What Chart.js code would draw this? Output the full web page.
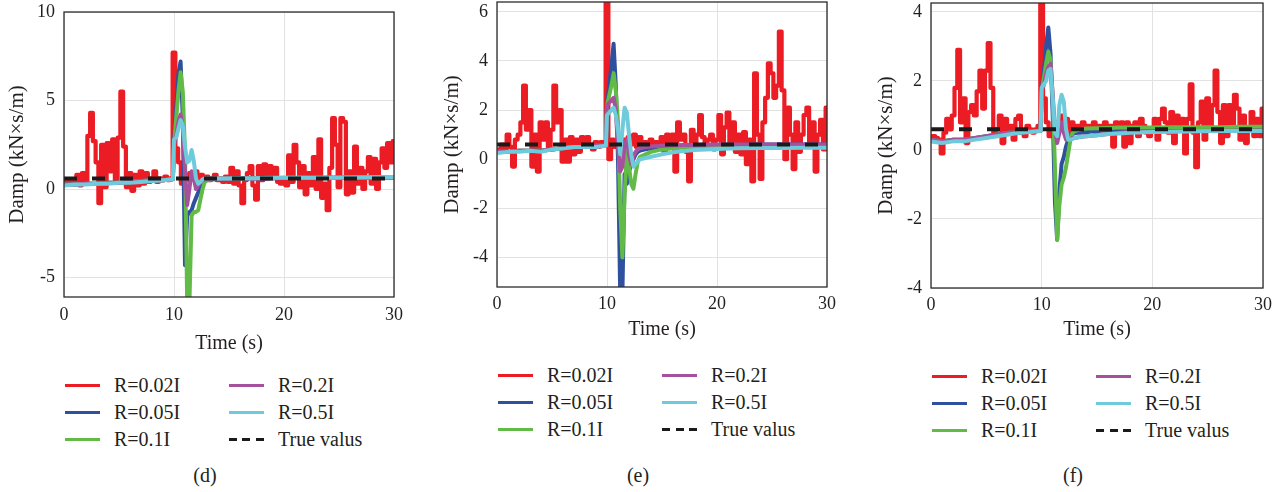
<!DOCTYPE html>
<html>
<head>
<meta charset="utf-8">
<script src="https://cdn.jsdelivr.net/npm/chart.js@4.4.1/dist/chart.umd.min.js"></script>
<style>
  body { margin: 0; background: #fff; }
  #wrap { position: relative; width: 1285px; height: 492px; overflow: hidden; font-family: "Liberation Serif", serif; color: #231f20; }
  canvas { position: absolute; top: 0; }
  .leg { position: absolute; font-size: 20px; line-height: 24px; white-space: nowrap; }
  .sw { position: absolute; width: 35px; height: 3px; }
  .cap { position: absolute; font-size: 20px; transform: translate(-50%, -50%); }
</style>
</head>
<body>
<div id="wrap">
  <canvas id="cD" width="420" height="360" style="left:0px"></canvas>
  <canvas id="cE" width="430" height="345" style="left:420px"></canvas>
  <canvas id="cF" width="435" height="345" style="left:850px"></canvas>
</div>
<script>
// ---- data ----
const seriesNames = ['R=0.02I', 'R=0.05I', 'R=0.1I', 'R=0.2I', 'R=0.5I', 'True valus'];
const xTicks = [0, 10, 20, 30];
const yTicksD = [-5, 0, 5, 10];
const yTicksE = [-4, -2, 0, 2, 4, 6];
const yTicksF = [-4, -2, 0, 2, 4];

// time for the noisy R=0.02I traces
const tRed = [0,0.25,0.5,0.75,1,1.25,1.5,1.75,2,2.25,2.5,2.75,3,3.25,3.5,3.75,4,4.25,4.5,4.75,
  5,5.25,5.5,5.75,6,6.25,6.5,6.75,7,7.25,7.5,7.75,8,8.25,8.5,8.75,9,9.25,9.5,9.75,
  10,10.25,10.5,10.75,11,11.25,11.5,11.75,12,12.25,12.5,12.75,13,13.25,13.5,13.75,14,14.25,14.5,14.75,
  15,15.25,15.5,15.75,16,16.25,16.5,16.75,17,17.25,17.5,17.75,18,18.25,18.5,18.75,19,19.25,19.5,19.75,
  20,20.25,20.5,20.75,21,21.25,21.5,21.75,22,22.25,22.5,22.75,23,23.25,23.5,23.75,24,24.25,24.5,24.75,
  25,25.25,25.5,25.75,26,26.25,26.5,26.75,27,27.25,27.5,27.75,28,28.25,28.5,28.75,29,29.25,29.5,29.75,30];

// time for the smoother traces
const tSm = [0,1,2,3,4,5,6,7,8,9,9.9,
  10,10.2,10.4,10.6,10.8,11,11.2,11.4,11.6,11.8,12,12.2,12.4,12.6,12.8,13,
  13.5,14,15,16,17,18,20,22,24,26,28,30];
const tTrue = [0, 30];

// (d)
const redD = [0.3,0.4,0.3,0.5,0.4,0.8,0.2,0.9,0.3,3.0,
  4.3,2.7,1.5,-0.8,2.5,0.1,2.6,1.0,2.8,0.5,
  2.9,5.5,2.4,0.1,0.9,-0.1,0.8,0.2,1.0,0.3,
  0.9,0.4,0.6,1.0,0.4,0.6,0.5,0.7,0.5,0.6,
  7.7,2.3,1.5,0.3,0.8,0.5,0.9,0.6,1.0,0.5,
  0.8,0.6,0.7,0.5,0.6,0.8,0.5,0.6,0.4,0.7,
  0.4,1.2,0.3,1.0,0.2,-0.8,0.5,0.9,1.3,0.2,
  -0.6,1.3,0.5,1.4,0.6,1.3,0.8,1.2,0.4,0.3,
  0.5,0.2,1.9,0.4,2.5,1.5,0.1,1.3,-0.3,0.9,
  0.2,1.8,0.0,2.8,-0.5,0.3,-1.2,1.2,4.0,2.5,
  0.1,4.0,3.8,-0.3,1.0,-0.2,2.4,0.3,1.2,0.0,
  1.0,1.8,0.3,1.7,0.0,1.5,2.3,1.2,2.6,1.5,
  2.7];
const blueD = [0.25,0.25,0.3,0.3,0.35,0.35,0.4,0.45,0.5,0.5,0.55,
  2.5,4.5,6.5,7.2,4.0,-4.3,-1.5,-1.3,-1.2,-0.8,-0.5,-0.2,0.1,0.3,0.45,0.5,
  0.55,0.55,0.6,0.6,0.6,0.6,0.62,0.62,0.63,0.64,0.65,0.65];
const greenD = [0.25,0.25,0.3,0.3,0.35,0.35,0.4,0.45,0.5,0.5,0.55,
  2.5,4.0,5.5,6.6,5.5,2.0,-6.5,-6.5,-1.5,-1.3,-1.3,-1.2,-0.6,0.0,0.4,0.5,
  0.55,0.58,0.6,0.6,0.62,0.62,0.63,0.63,0.64,0.65,0.65,0.66];
const purpleD = [0.25,0.25,0.3,0.3,0.35,0.35,0.4,0.45,0.5,0.5,0.55,
  2.5,3.0,3.8,4.2,3.5,1.0,-0.9,0.0,1.0,0.6,0.0,0.2,0.4,0.5,0.55,0.55,
  0.55,0.58,0.6,0.6,0.6,0.6,0.62,0.62,0.63,0.64,0.65,0.65];
const cyanD = [0.2,0.25,0.25,0.3,0.3,0.35,0.35,0.4,0.45,0.5,0.55,
  2.8,2.9,3.4,3.9,3.6,2.4,1.5,1.6,2.2,1.6,0.6,0.3,0.4,0.55,0.6,0.6,
  0.6,0.6,0.6,0.62,0.6,0.62,0.63,0.63,0.64,0.65,0.66,0.68];
const trueD = [0.6, 0.6];

// (e)
const redE = [0.3,0.4,0.6,0.3,1.0,0.5,-0.3,0.8,1.0,1.5,
  3.0,1.2,2.0,-0.3,1.0,-0.5,1.5,0.8,1.5,0.5,
  1.2,3.0,1.5,2.0,-0.1,0.8,-0.1,0.9,0.2,0.8,
  0.3,0.9,0.5,0.9,0.6,0.4,0.7,0.5,0.7,0.6,
  6.8,0.0,0.8,0.5,0.7,0.6,0.8,0.5,0.9,0.6,
  1.0,0.5,0.9,0.5,0.7,0.5,0.8,0.4,0.7,0.5,
  0.9,0.3,1.0,0.6,1.0,-0.5,1.5,0.8,1.0,0.3,
  -0.9,1.2,0.5,1.0,1.8,0.9,0.6,0.8,1.0,0.4,
  0.8,1.8,0.2,1.3,1.9,0.5,1.5,0.3,1.0,0.2,
  1.1,-0.2,0.8,-0.9,3.5,1.0,-0.8,1.5,2.5,3.9,
  3.5,2.5,3.0,5.2,2.8,0.0,2.1,1.0,-0.4,1.5,
  0.3,1.0,1.8,2.1,0.5,1.5,-0.5,1.0,1.6,0.4,
  2.1];
const blueE = [0.3,0.3,0.35,0.35,0.35,0.4,0.45,0.5,0.5,0.55,0.55,
  2.2,3.0,3.8,4.7,3.0,0.0,-5.5,-5.5,-0.6,-1.0,-0.5,-0.2,0.0,0.2,0.3,0.35,
  0.4,0.45,0.5,0.52,0.55,0.55,0.57,0.58,0.6,0.6,0.6,0.6];
const greenE = [0.3,0.3,0.35,0.35,0.35,0.4,0.45,0.5,0.5,0.55,0.55,
  2.2,2.6,3.0,3.5,2.8,1.5,-2.0,-4.0,-1.5,0.3,-0.3,-1.0,-1.2,-0.6,-0.1,0.1,
  0.2,0.3,0.4,0.45,0.48,0.5,0.5,0.5,0.52,0.52,0.52,0.52];
const purpleE = [0.3,0.3,0.35,0.35,0.35,0.4,0.45,0.5,0.5,0.55,0.55,
  2.2,2.3,2.4,2.5,2.0,0.5,-0.5,-0.3,0.6,0.8,0.2,-0.2,0.1,0.3,0.4,0.45,
  0.5,0.52,0.55,0.57,0.58,0.58,0.6,0.6,0.6,0.6,0.6,0.6];
const cyanE = [0.25,0.3,0.3,0.35,0.3,0.4,0.45,0.5,0.5,0.5,0.55,
  1.8,1.9,2.0,2.1,1.8,1.2,0.2,1.2,2.1,1.9,1.0,0.2,-0.3,-0.2,-0.1,0.0,
  0.05,0.1,0.2,0.28,0.33,0.38,0.42,0.45,0.46,0.46,0.47,0.47];
const trueE = [0.6, 0.6];

// (f)
const redF = [0.35,0.4,0.35,0.3,-0.1,0.5,0.9,0.6,1.0,1.8,
  2.9,0.8,1.5,0.2,1.1,1.3,1.0,1.7,2.3,1.2,
  2.3,3.1,1.8,0.5,0.6,1.0,0.2,0.9,0.5,0.7,
  0.3,0.9,1.0,0.5,0.4,0.7,0.6,0.5,0.6,0.7,
  4.6,1.5,0.8,0.4,0.6,0.8,0.6,1.0,0.7,0.9,
  0.5,0.8,0.5,0.7,0.6,0.8,0.5,0.7,0.6,0.8,
  0.5,0.7,0.6,0.8,0.5,0.7,0.1,0.8,0.7,0.8,
  0.1,0.8,0.2,0.7,0.8,0.4,0.9,0.7,0.5,0.4,
  0.6,0.9,0.3,0.9,1.2,0.8,0.5,1.1,0.2,1.0,
  0.7,0.9,-0.1,0.9,1.9,0.5,-0.5,0.8,1.4,0.3,
  1.5,0.6,1.3,2.3,1.1,0.2,1.3,0.4,1.3,0.6,
  1.6,1.2,0.3,1.0,0.2,0.6,1.1,0.4,0.9,0.4,
  1.2];
const blueF = [0.3,0.25,0.3,0.3,0.35,0.4,0.45,0.5,0.5,0.55,0.55,
  1.7,2.3,3.0,3.55,2.8,1.0,-1.5,-2.6,-1.2,-0.4,-0.2,0.1,0.3,0.4,0.45,0.5,
  0.5,0.52,0.55,0.57,0.58,0.6,0.6,0.6,0.6,0.6,0.6,0.6];
const greenF = [0.3,0.25,0.3,0.3,0.35,0.4,0.45,0.5,0.5,0.55,0.55,
  1.7,2.1,2.5,2.85,2.6,1.5,-0.5,-2.6,-1.6,-1.0,-0.8,-0.5,-0.1,0.3,0.5,0.55,
  0.6,0.62,0.63,0.64,0.65,0.65,0.65,0.66,0.66,0.66,0.67,0.67];
const purpleF = [0.3,0.25,0.3,0.3,0.35,0.4,0.45,0.5,0.5,0.55,0.55,
  1.7,1.9,2.2,2.4,2.5,1.6,0.6,0.2,0.5,0.8,0.5,0.3,0.3,0.32,0.35,0.35,
  0.38,0.4,0.43,0.46,0.5,0.52,0.54,0.55,0.55,0.56,0.56,0.56];
const cyanF = [0.25,0.2,0.25,0.25,0.3,0.35,0.4,0.45,0.5,0.52,0.55,
  1.8,1.9,2.0,2.3,2.35,1.5,0.5,0.4,1.3,1.6,1.4,0.6,0.3,0.3,0.32,0.35,
  0.38,0.4,0.43,0.46,0.48,0.5,0.52,0.53,0.54,0.55,0.55,0.55];
const trueF = [0.6, 0.6];

// ---- styles ----
const colors = ['#ec1c24', '#2f4f9f', '#62bb46', '#a6519e', '#6ecbdc', '#1a1a1a'];
const textColor = '#231f20';
const fontFam = '"Liberation Serif", "Times New Roman", serif';
Chart.defaults.font.family = fontFam;
Chart.defaults.color = textColor;

const pts = (t, v) => t.map((x, i) => ({ x: x, y: v[i] }));

const boxPlugin = {
  id: 'box',
  afterDatasetsDraw(chart) {
    const a = chart.chartArea, ctx = chart.ctx;
    ctx.save();
    ctx.strokeStyle = '#2b2b2b';
    ctx.lineWidth = 1.3;
    ctx.strokeRect(a.left, a.top, a.right - a.left, a.bottom - a.top);
    ctx.restore();
  }
};

function makePanel(id, series, yTicks, L) {
  const datasets = series.map((s, i) => ({
    label: seriesNames[i],
    data: pts(s.t, s.v),
    borderColor: colors[i],
    borderWidth: i === 0 ? 4.2 : 4,
    borderDash: i === 5 ? [13, 15] : [],
    borderJoinStyle: 'round',
    stepped: i === 0 ? 'middle' : false,
    pointRadius: 0,
    tension: 0,
    clip: 0,
    order: 6 - i
  }));
  new Chart(document.getElementById(id), {
    type: 'line',
    data: { datasets },
    plugins: [boxPlugin],
    options: {
      responsive: false,
      animation: false,
      events: [],
      layout: { padding: { top: L.top, right: L.right, left: 0, bottom: 0 } },
      plugins: { legend: { display: false }, tooltip: { enabled: false } },
      scales: {
        x: {
          type: 'linear', min: 0, max: 30,
          afterBuildTicks: s => { s.ticks = xTicks.map(v => ({ value: v })); },
          afterFit: s => { s.height = L.xh; s.paddingLeft = 0; s.paddingRight = 0; },
          grid: { color: '#e2e2e2', lineWidth: 1, drawTicks: false },
          border: { display: false },
          ticks: { font: { size: 18 }, color: textColor, padding: L.xtp, maxRotation: 0 },
          title: { display: true, text: 'Time (s)', font: { size: 20 }, color: textColor,
                   padding: { top: 0, bottom: L.xtb } }
        },
        y: {
          type: 'linear', min: L.ymin, max: L.ymax,
          afterBuildTicks: s => { s.ticks = yTicks.map(v => ({ value: v })); },
          afterFit: s => { s.width = L.yw; s.paddingTop = 0; s.paddingBottom = 0; },
          grid: { color: '#e2e2e2', lineWidth: 1, drawTicks: false },
          border: { display: false },
          ticks: { font: { size: 18 }, color: textColor, padding: 9 },
          title: { display: true, text: 'Damp (kN×s/m)', font: { size: 21 }, color: textColor,
                   padding: { top: L.ytp, bottom: 0 } }
        }
      }
    }
  });
}

makePanel('cD', [
  { t: tRed, v: redD }, { t: tSm, v: blueD }, { t: tSm, v: greenD },
  { t: tSm, v: purpleD }, { t: tSm, v: cyanD }, { t: tTrue, v: trueD }
], yTicksD, { top: 12, right: 26, xh: 63, xtp: 7, xtb: 4, yw: 64, ytp: 5, ymin: -6.1, ymax: 10 });

makePanel('cE', [
  { t: tRed, v: redE }, { t: tSm, v: blueE }, { t: tSm, v: greenE },
  { t: tSm, v: purpleE }, { t: tSm, v: cyanE }, { t: tTrue, v: trueE }
], yTicksE, { top: 2, right: 23, xh: 58, xtp: 6, xtb: 3, yw: 77, ytp: 20, ymin: -5.2, ymax: 6.4 });

makePanel('cF', [
  { t: tRed, v: redF }, { t: tSm, v: blueF }, { t: tSm, v: greenF },
  { t: tSm, v: purpleF }, { t: tSm, v: cyanF }, { t: tTrue, v: trueF }
], yTicksF, { top: 3, right: 22, xh: 57, xtp: 6, xtb: 3, yw: 81, ytp: 24, ymin: -4, ymax: 4.26 });

// ---- legends and captions ----
const wrap = document.getElementById('wrap');
function addLegend(x0, y0, caption, cx, cy) {
  seriesNames.forEach((name, i) => {
    const col = i < 3 ? 0 : 1, row = i % 3;
    const x = x0 + col * 164, y = y0 + row * 27;
    const sw = document.createElement('div');
    sw.className = 'sw';
    sw.style.left = x + 'px';
    sw.style.top = (y - 1) + 'px';
    if (i === 5) {
      sw.style.background = 'repeating-linear-gradient(to right, ' + colors[i] + ' 0 8px, transparent 8px 13.5px)';
    } else {
      sw.style.background = colors[i];
    }
    wrap.appendChild(sw);
    const tx = document.createElement('div');
    tx.className = 'leg';
    tx.textContent = name;
    tx.style.left = (x + 49) + 'px';
    tx.style.top = (y - 12) + 'px';
    wrap.appendChild(tx);
  });
  const c = document.createElement('div');
  c.className = 'cap';
  c.textContent = caption;
  c.style.left = cx + 'px';
  c.style.top = cy + 'px';
  wrap.appendChild(c);
}
addLegend(65, 385, '(d)', 205, 475);
addLegend(498, 375, '(e)', 638, 475);
addLegend(932, 376, '(f)', 1073, 475);
</script>
</body>
</html>
